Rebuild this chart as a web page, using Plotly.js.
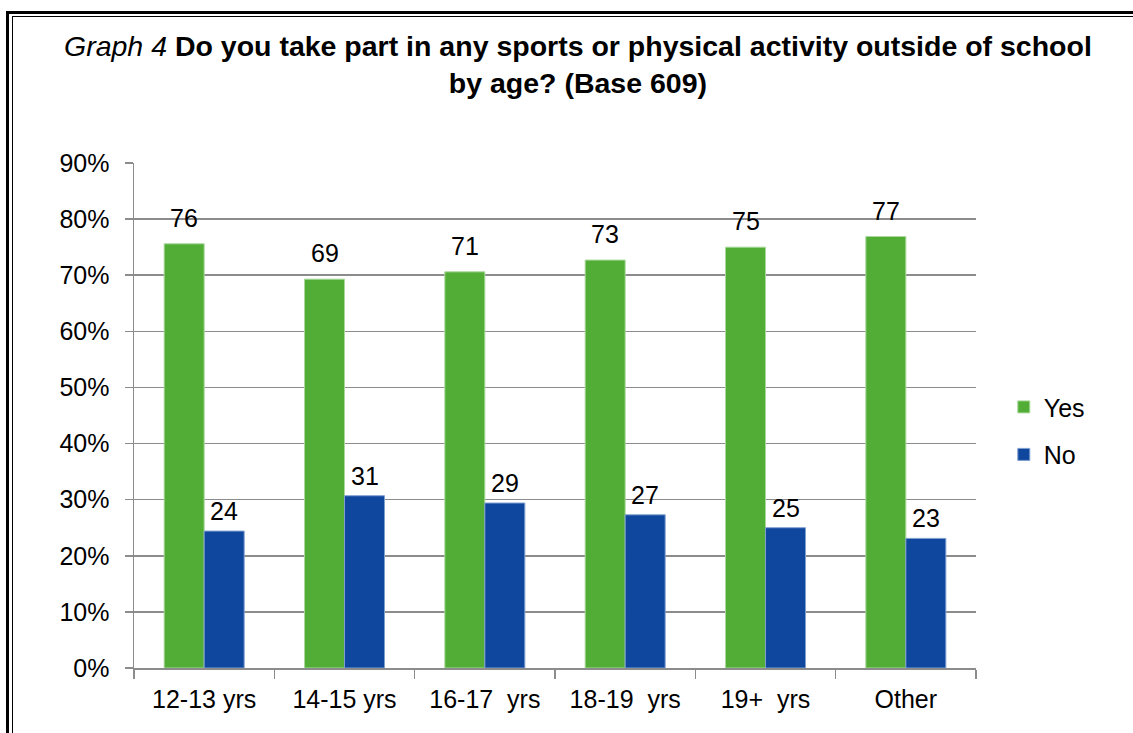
<!DOCTYPE html>
<html>
<head>
<meta charset="utf-8">
<script src="https://cdn.plot.ly/plotly-3.0.1.min.js"></script>
<style>
  html, body { margin: 0; padding: 0; background: #fff; }
  #wrap { position: relative; width: 1133px; height: 733px; overflow: hidden; }
  #chart { position: absolute; left: 0; top: 0; width: 1133px; height: 733px; }
  .b1 { position: absolute; left: 6px; top: 11px; width: 1200px; height: 800px; border-left: 3px solid #000; border-top: 3px solid #000; pointer-events: none; }
  .b2 { position: absolute; left: 12px; top: 16px; width: 1200px; height: 800px; border-left: 1.5px solid #000; border-top: 1.5px solid #000; pointer-events: none; }
</style>
</head>
<body>
<div id="wrap">
  <div id="chart"></div>
  <div class="b1"></div>
  <div class="b2"></div>
</div>
<script>
const categories = ["12-13 yrs", "14-15 yrs", "16-17  yrs", "18-19  yrs", "19+  yrs", "Other"];
const yesValues = [75.6, 69.3, 70.6, 72.7, 75.0, 76.9];
const noValues  = [24.4, 30.7, 29.4, 27.3, 25.0, 23.1];
const yTickVals = [0, 10, 20, 30, 40, 50, 60, 70, 80, 90];
const yTickText = yTickVals.map(v => v + "%");
const titleText = "<i>Graph 4</i> <b>Do you take part in any sports or physical activity outside of school<br>by age? (Base 609)</b>";

const FONT = "Liberation Sans, Arial, sans-serif";
const GREEN = "#52ad37";
const BLUE = "#0e479d";
const FS = 25;

const traces = [
  { type: "bar", name: "Yes", x: categories, y: yesValues, legendgroup: "a",
    marker: { color: GREEN, line: { color: "#a9d89a", width: 1 } }, hoverinfo: "none" },
  { type: "bar", name: "No", x: categories, y: noValues, legendgroup: "b",
    marker: { color: BLUE, line: { color: "#7f9fcf", width: 1 } }, hoverinfo: "none" }
];

const annotations = [];
categories.forEach((c, i) => {
  annotations.push({ x: c, y: yesValues[i], xref: "x", yref: "y", text: String(Math.round(yesValues[i])),
    showarrow: false, xshift: -20, yshift: 10, yanchor: "bottom",
    font: { family: FONT, size: FS, color: "#000" } });
  annotations.push({ x: c, y: noValues[i], xref: "x", yref: "y", text: String(Math.round(noValues[i])),
    showarrow: false, xshift: 20, yshift: 4, yanchor: "bottom",
    font: { family: FONT, size: FS, color: "#000" } });
});
annotations.push({ xref: "paper", yref: "paper", x: 0.527, y: 1.196, xanchor: "center", yanchor: "middle",
  text: titleText, showarrow: false, align: "center",
  font: { family: FONT, size: 28.5, color: "#000" } });

const layout = {
  width: 1133, height: 733,
  paper_bgcolor: "#fff", plot_bgcolor: "#fff",
  margin: { l: 134, r: 157, t: 163, b: 65 },
  font: { family: FONT, size: FS, color: "#000" },
  barmode: "group", bargap: 0.43, bargroupgap: 0,
  showlegend: true,
  legend: {
    x: 1.033, xanchor: "left", y: 0.47, yanchor: "middle",
    font: { family: FONT, size: FS, color: "#000" },
    itemwidth: 30, tracegroupgap: 12, bgcolor: "rgba(0,0,0,0)"
  },
  xaxis: {
    type: "category", tickson: "boundaries", ticks: "outside", ticklen: 9, tickcolor: "#8c8c8c", tickwidth: 1.5,
    showline: true, linecolor: "#8c8c8c", linewidth: 1.5, showgrid: false,
    tickfont: { family: FONT, size: FS, color: "#000" }, ticklabelstandoff: 8
  },
  yaxis: {
    range: [0, 90], tickvals: yTickVals, ticktext: yTickText,
    ticks: "outside", ticklen: 8, tickcolor: "#8c8c8c", tickwidth: 1.5,
    showline: true, linecolor: "#8c8c8c", linewidth: 1.5,
    showgrid: true, gridcolor: "#8c8c8c", gridwidth: 1.5, zeroline: false,
    tickfont: { family: FONT, size: FS, color: "#000" }, ticklabelstandoff: 10
  },
  annotations: annotations
};

Plotly.newPlot("chart", traces, layout, { displayModeBar: false, staticPlot: true });
</script>
</body>
</html>
